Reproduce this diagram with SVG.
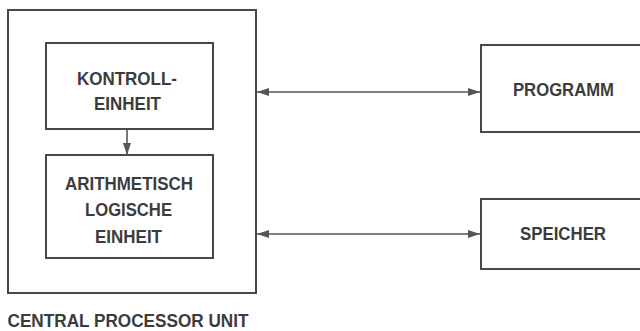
<svg xmlns="http://www.w3.org/2000/svg" width="640" height="331" viewBox="0 0 640 331">
<style>
.box{fill:none;stroke:#484848;stroke-width:2}
.t{font-family:"Liberation Sans",Arial,sans-serif;font-weight:bold;font-size:18.5px;fill:#3c3c3c;text-anchor:middle}
.c{stroke:#555;stroke-width:1.6;fill:none}
</style>
<defs>
<marker id="ah" viewBox="0 0 12 8" refX="12" refY="4" markerWidth="12" markerHeight="8" markerUnits="userSpaceOnUse" orient="auto-start-reverse">
<path d="M0,0 L12,4 L0,8 Z" fill="#555"/>
</marker>
</defs>
<rect width="640" height="331" fill="#fff"/>
<g id="cpu">
<rect class="box" x="8" y="10" width="248" height="283"/>
<text class="t" x="7.5" y="327" style="text-anchor:start;font-size:18px" textLength="241" lengthAdjust="spacingAndGlyphs">CENTRAL PROCESSOR UNIT</text>
</g>
<g id="kontroll">
<rect class="box" x="46" y="43" width="167" height="86"/>
<text class="t" x="127" y="85" textLength="100" lengthAdjust="spacingAndGlyphs">KONTROLL-</text>
<text class="t" x="127.5" y="110" textLength="67" lengthAdjust="spacingAndGlyphs">EINHEIT</text>
</g>
<g id="alu">
<rect class="box" x="46" y="155" width="167" height="103"/>
<text class="t" x="129" y="190" textLength="128" lengthAdjust="spacingAndGlyphs">ARITHMETISCH</text>
<text class="t" x="128.5" y="216" textLength="87" lengthAdjust="spacingAndGlyphs">LOGISCHE</text>
<text class="t" x="128.5" y="242.5" textLength="67" lengthAdjust="spacingAndGlyphs">EINHEIT</text>
</g>
<g id="programm">
<rect class="box" x="481" y="45" width="170" height="87"/>
<text class="t" x="563.5" y="95.5" textLength="101" lengthAdjust="spacingAndGlyphs">PROGRAMM</text>
</g>
<g id="speicher">
<rect class="box" x="481" y="199" width="170" height="70"/>
<text class="t" x="563" y="240" textLength="86" lengthAdjust="spacingAndGlyphs">SPEICHER</text>
</g>
<g id="connectors">
<line class="c" x1="127" y1="130" x2="127" y2="155" marker-end="url(#ah)"/>
<line class="c" x1="257" y1="92" x2="480" y2="92" marker-start="url(#ah)" marker-end="url(#ah)"/>
<line class="c" x1="257" y1="234" x2="480" y2="234" marker-start="url(#ah)" marker-end="url(#ah)"/>
</g>
</svg>
